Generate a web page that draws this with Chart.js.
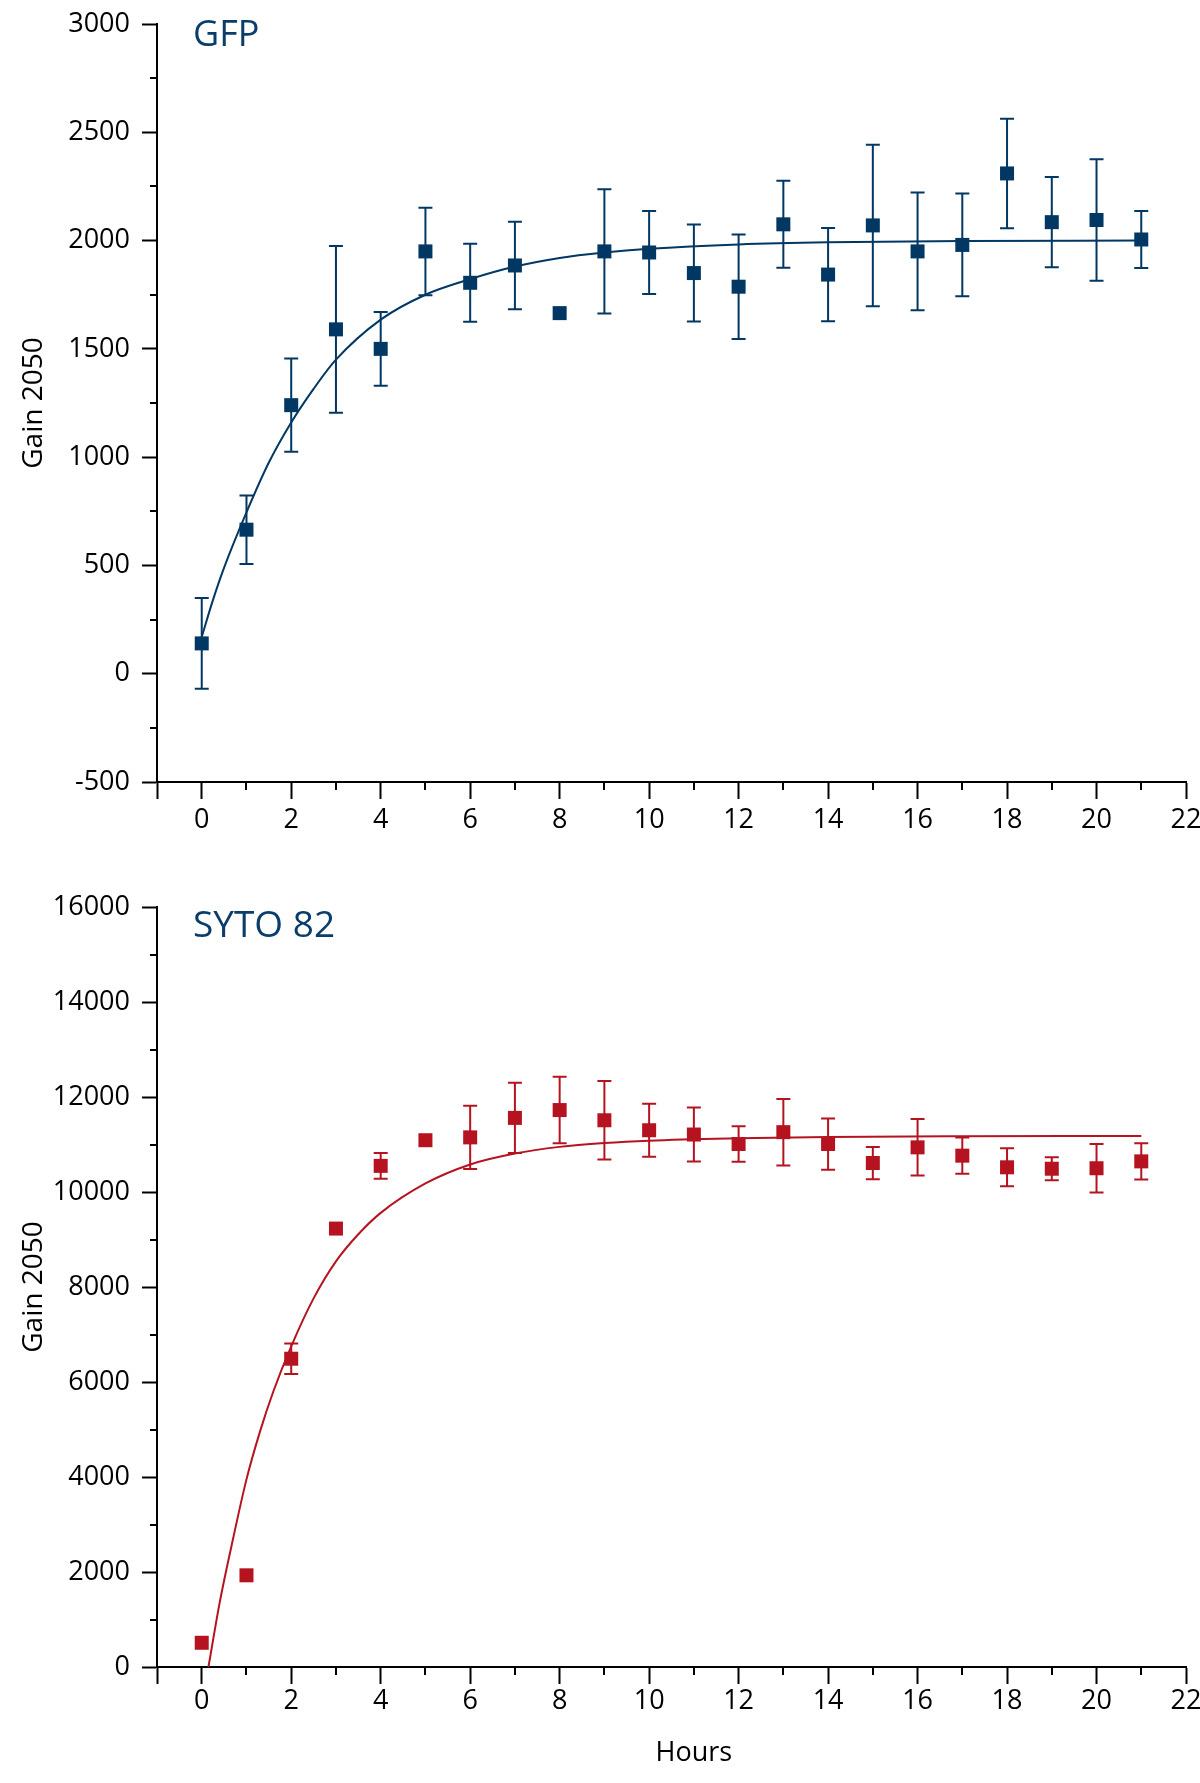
<!DOCTYPE html>
<html>
<head>
<meta charset="utf-8">
<script src="https://cdn.jsdelivr.net/npm/chart.js@4.4.1/dist/chart.umd.min.js"></script>
<style>
html,body{margin:0;padding:0;background:#fff;width:1200px;height:1783px;overflow:hidden}
.w{position:absolute;left:0;width:1200px}
#w1{top:0;height:860px}
#w2{top:870px;height:913px}
</style>
</head>
<body>
<div id="w1" class="w"><canvas id="c1"></canvas></div>
<div id="w2" class="w"><canvas id="c2"></canvas></div>
<script>
// ---- data ----
const hours = [0,1,2,3,4,5,6,7,8,9,10,11,12,13,14,15,16,17,18,19,20,21];
const gfpMean = [140,665,1240,1590,1500,1950,1805,1885,1665,1950,1945,1850,1787,2075,1843,2070,1950,1980,2310,2085,2095,2005];
const gfpErr  = [210,158,215,385,170,202,180,202,0,287,192,224,241,201,215,373,272,237,253,208,280,132];
const gfpFitHours = [0,0.25,0.5,1,1.5,2,2.5,3,4,5,6,7,8,9,10,12,14,17,21];
const gfpFit      = [170,340,490,745,975,1160,1315,1450,1635,1750,1822,1880,1920,1945,1962,1982,1992,1998,2000];

const sytoMean = [510,1930,6490,9230,10550,11090,11150,11560,11725,11510,11300,11210,11010,11260,11010,10610,10940,10765,10520,10490,10500,10645];
const sytoErr  = [0,0,320,0,270,0,665,740,700,825,560,570,375,700,540,340,595,380,400,240,510,380];
const sytoFitHours = [0.15,0.4,0.7,1,1.3,1.6,2,2.5,3,3.5,4,5,6,7,8,9,10,12,14,17,21];
const sytoFit      = [0,1350,2700,3950,4950,5800,6750,7760,8540,9110,9560,10180,10580,10810,10950,11030,11080,11130,11160,11175,11180];

const xTicks = [-1,0,2,4,6,8,10,12,14,16,18,20,22];
const xMinorTicks = [1,3,5,7,9,11,13,15,17,19,21];
const gfpYTicks = [-500,0,500,1000,1500,2000,2500,3000];
const gfpYMinor = [-250,250,750,1250,1750,2250,2750];
const sytoYTicks = [0,2000,4000,6000,8000,10000,12000,14000,16000];
const sytoYMinor = [1000,3000,5000,7000,9000,11000,13000,15000];

const panelTitles = ['GFP','SYTO 82'];
const yTitle = 'Gain 2050';
const xTitle = 'Hours';

// ---- styles ----
const NAVY = '#003763', RED = '#b51320', TITLEC = '#0b3d6b';
const FONT = "'Open Sans', 'Noto Sans', sans-serif";

function extrasPlugin(o){
  return {
    id:'extras',
    beforeDatasetsDraw(chart){
      const {ctx, scales:{x,y}} = chart;
      ctx.save();
      ctx.strokeStyle = o.color; ctx.lineWidth = 2;
      o.hours.forEach((h,i)=>{
        const e = o.err[i]; if(!e) return;
        const px = x.getPixelForValue(h);
        const t = y.getPixelForValue(o.mean[i]+e), b = y.getPixelForValue(o.mean[i]-e);
        ctx.beginPath();
        ctx.moveTo(px,t); ctx.lineTo(px,b);
        ctx.moveTo(px-7,t); ctx.lineTo(px+7,t);
        ctx.moveTo(px-7,b); ctx.lineTo(px+7,b);
        ctx.stroke();
      });
      ctx.restore();
    },
    afterDraw(chart){
      const {ctx, chartArea:ca, scales:{x,y}} = chart;
      ctx.save();
      ctx.strokeStyle = '#000'; ctx.lineWidth = 2;
      o.xMinor.forEach(v=>{
        const px = Math.round(x.getPixelForValue(v));
        ctx.beginPath(); ctx.moveTo(px, ca.bottom); ctx.lineTo(px, ca.bottom+8); ctx.stroke();
      });
      o.yMinor.forEach(v=>{
        const py = Math.round(y.getPixelForValue(v));
        ctx.beginPath(); ctx.moveTo(ca.left-7, py); ctx.lineTo(ca.left, py); ctx.stroke();
      });
      ctx.fillStyle = TITLEC; ctx.font = o.titleFont; ctx.textAlign='left'; ctx.textBaseline='alphabetic';
      ctx.fillText(o.title, ca.left+36, ca.top+o.titleBase);
      if(o.xLabel){
        ctx.fillStyle = '#000'; ctx.font = '27px ' + FONT; ctx.textAlign='center';
        ctx.fillText(o.xLabel, x.getPixelForValue(11), ca.bottom + 94);
      }
      ctx.restore();
    }
  };
}

function makeChart(id, o){
  return new Chart(document.getElementById(id), {
    type:'scatter',
    data:{datasets:[
      {type:'line', data:o.fitX.map((v,i)=>({x:v,y:o.fitY[i]})), borderColor:o.color, borderWidth:2,
       pointRadius:0, fill:false, cubicInterpolationMode:'monotone', order:2},
      {type:'scatter', data:o.hours.map((h,i)=>({x:h,y:o.mean[i]})), pointStyle:'rect', pointRadius:9.9,
       backgroundColor:o.color, borderWidth:0, order:1}
    ]},
    options:{
      responsive:true, maintainAspectRatio:false, animation:false, devicePixelRatio:1,
      layout:{padding:{left:0,right:14,top:o.padTop,bottom:0}},
      plugins:{legend:{display:false}, tooltip:{enabled:false}},
      scales:{
        x:{type:'linear', min:-1, max:22,
          afterBuildTicks:s=>{s.ticks = xTicks.map(v=>({value:v}));},
          afterFit:s=>{s.height=o.xHeight; s.paddingLeft=0; s.paddingRight=0;},
          grid:{display:true, drawOnChartArea:false, drawTicks:true, tickLength:17, tickWidth:2, tickColor:'#000'},
          border:{display:true, color:'#000', width:2},
          ticks:{autoSkip:false, maxRotation:0, color:'#000', padding:o.xPad, font:{family:FONT,size:27},
            callback:v=> v<0 ? '' : String(v)}
        },
        y:{type:'linear', min:o.yMin, max:o.yMax,
          afterBuildTicks:s=>{s.ticks = o.yTicks.map(v=>({value:v}));},
          afterFit:s=>{s.width=157; s.paddingTop=0; s.paddingBottom=0;},
          grid:{display:true, drawOnChartArea:false, drawTicks:true, tickLength:15, tickWidth:2, tickColor:'#000'},
          border:{display:true, color:'#000', width:2},
          ticks:{autoSkip:false, color:'#000', padding:12, font:{family:FONT,size:27}, callback:v=>String(v)},
          title:{display:true, text:yTitle, color:'#000', font:{family:FONT,size:28}, padding:{top:17,bottom:0}}
        }
      }
    },
    plugins:[extrasPlugin(o)]
  });
}

makeChart('c1', {hours, mean:gfpMean, err:gfpErr, fitX:gfpFitHours, fitY:gfpFit, color:NAVY,
  yMin:-500, yMax:3000, yTicks:gfpYTicks, yMinor:gfpYMinor, xMinor:xMinorTicks,
  padTop:24, xHeight:78, xPad:5, title:panelTitles[0], titleFont:'36px '+FONT, titleBase:22});
makeChart('c2', {hours, mean:sytoMean, err:sytoErr, fitX:sytoFitHours, fitY:sytoFit, color:RED,
  yMin:0, yMax:16000, yTicks:sytoYTicks, yMinor:sytoYMinor, xMinor:xMinorTicks,
  padTop:37, xHeight:116, xPad:1, title:panelTitles[1], titleFont:'37px '+FONT, titleBase:30, xLabel:xTitle});
</script>
</body>
</html>
